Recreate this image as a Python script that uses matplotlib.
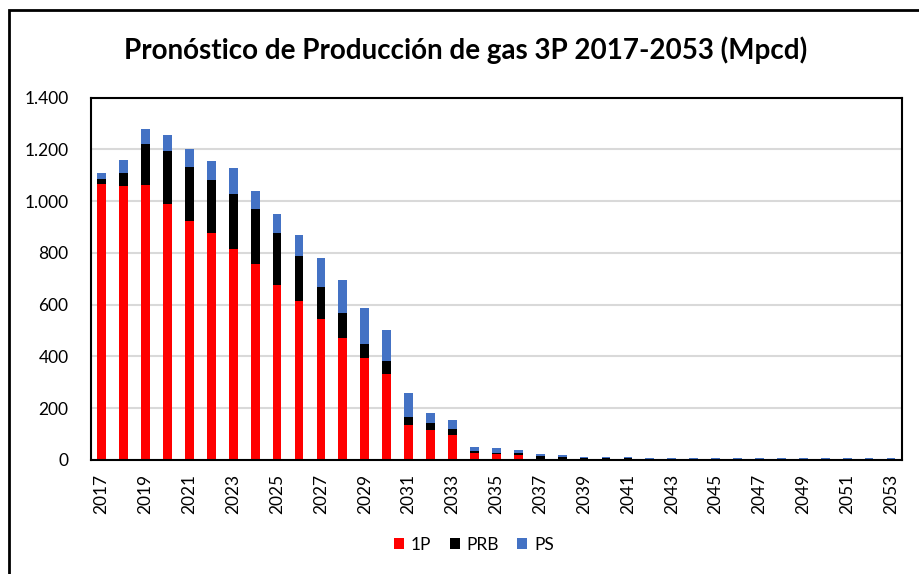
import matplotlib
matplotlib.use("Agg")
import matplotlib.pyplot as plt
from matplotlib.patches import Rectangle
from matplotlib.ticker import FuncFormatter, MultipleLocator
import numpy as np

years = list(range(2017, 2054))
p1 = [1067, 1057, 1062, 991, 925, 878, 817, 757, 676, 615, 544, 473, 394, 333,
      135, 116, 97, 27, 22, 18, 2, 1, 0, 0, 0, 0, 0, 0, 0, 0, 0, 0, 0, 0, 0, 0, 0]
prb = [18, 53, 160, 203, 208, 204, 212, 211, 203, 174, 126, 95, 56, 51,
       33, 28, 24, 9, 5, 8, 12, 10, 7, 7, 7, 1, 1, 1, 1, 1, 1, 1, 1, 1, 1, 1, 1]
ps = [24, 50, 57, 60, 70, 74, 99, 71, 70, 80, 110, 127, 137, 119,
      90, 38, 32, 14, 18, 14, 9, 7, 5, 5, 5, 5, 5, 5, 5, 5, 5, 5, 5, 5, 5, 5, 5]
series_names = ["1P", "PRB", "PS"]
colors = ["#FF0000", "#000000", "#4472C4"]

plt.rcParams['font.family'] = ['Lato', 'DejaVu Sans']

fig = plt.figure(figsize=(9.19, 5.74), dpi=100)
ax = fig.add_axes([90.7/919, 1-460/574, (902-90.7)/919, (460-97.7)/574])

x = np.arange(len(years))
p1a = np.array(p1); prba = np.array(prb); psa = np.array(ps)
w = 0.4
ax.bar(x, p1a, w, color=colors[0], label=series_names[0], zorder=3)
ax.bar(x, prba, w, bottom=p1a, color=colors[1], label=series_names[1], zorder=3)
ax.bar(x, psa, w, bottom=p1a+prba, color=colors[2], label=series_names[2], zorder=3)

ax.set_xlim(-0.5, len(years)-0.5)
ax.set_ylim(0, 1400)
ax.yaxis.set_major_locator(MultipleLocator(200))
ax.yaxis.set_major_formatter(FuncFormatter(lambda v, p: f"{int(v):,}".replace(",", ".")))
ax.grid(axis='y', color='#d9d9d9', linewidth=1.5, zorder=0)
ax.set_xticks(x[::2])
ax.set_xticklabels([str(y) for y in years[::2]], rotation=90)
ax.tick_params(axis='both', length=0, labelsize=12.5, colors='#000000')
ax.tick_params(axis='y', pad=16)
ax.tick_params(axis='x', pad=10)
for s in ax.spines.values():
    s.set_linewidth(1.5)
    s.set_color('#000000')
    s.set_zorder(4)

fig.text(466/919, 1-50/574, "Pronóstico de Producción de gas 3P 2017-2053 (Mpcd)",
         ha='center', va='center', fontsize=20, fontweight='bold')

leg = fig.legend(loc='center', bbox_to_anchor=(474/919, 1-545/574), ncol=3, frameon=False,
                 fontsize=12.5, handlelength=0.58, handleheight=0.58, handletextpad=0.4,
                 columnspacing=1.05)

fig.patches.append(Rectangle((9/919, -0.1), 1.2, 1-10/574+0.1, transform=fig.transFigure,
                             fill=False, edgecolor='black', linewidth=2))

fig.savefig("out.png", dpi=100)
